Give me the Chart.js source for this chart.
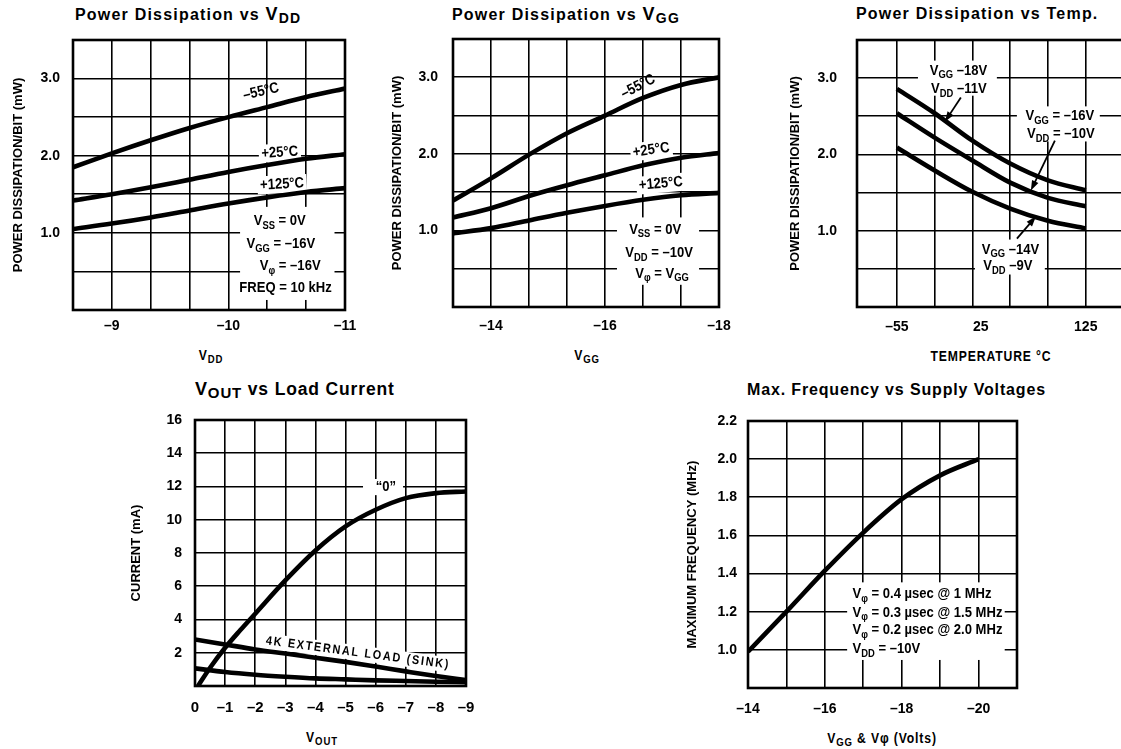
<!DOCTYPE html>
<html>
<head>
<meta charset="utf-8">
<script src="https://cdn.jsdelivr.net/npm/chart.js@4.4.1/dist/chart.umd.min.js"></script>
<style>
  html, body { margin: 0; padding: 0; background: #fff; }
  body { width: 1121px; height: 749px; overflow: hidden; position: relative; color: #000;
         font-family: "Liberation Sans", Arial, sans-serif; }
  canvas { position: absolute; }
  .t { position: absolute; font-weight: bold; font-size: 16px; line-height: 16px; letter-spacing: 1.2px; white-space: nowrap; }
  .t .bv { font-size: 18px; }
  .t .bs { font-size: 14px; position: relative; top: 3px; }
  .ax { position: absolute; transform: translateX(-50%) scaleX(0.87); white-space: nowrap; font-weight: bold; font-size: 14px; line-height: 14px;
        letter-spacing: 1px; }
  .ax .xs { font-size: 11px; position: relative; top: 3px; }
</style>
</head>
<body>
<div class="t" style="left:75px;top:6px">Power Dissipation vs <span class="bv">V</span><span class="bs">DD</span></div>
<div class="t" style="left:452px;top:6px">Power Dissipation vs <span class="bv">V</span><span class="bs">GG</span></div>
<div class="t" style="left:856px;top:6px;letter-spacing:1.2px">Power Dissipation vs Temp.</div>
<div class="t" style="left:195px;top:381px;font-size:17.5px;letter-spacing:0.85px"><span class="bv">V</span><span class="bs" style="font-size:15px">OUT</span> vs Load Current</div>
<div class="t" style="left:747px;top:382px;letter-spacing:0.85px">Max. Frequency vs Supply Voltages</div>

<div class="ax" style="left:211px;top:348px">V<span class="xs">DD</span></div>
<div class="ax" style="left:587px;top:348px">V<span class="xs">GG</span></div>
<div class="ax" style="left:991px;top:349px">TEMPERATURE °C</div>
<div class="ax" style="left:322px;top:730px">V<span class="xs">OUT</span></div>
<div class="ax" style="left:882px;top:731px">V<span class="xs">GG</span> &amp; Vφ (Volts)</div>

<script>
const FN = '"Liberation Sans", Arial, sans-serif';

// Power dissipation vs VDD
const vddX = [-8.667, -9, -9.333, -9.667, -10, -10.333, -10.667, -11];
const vddPdM55 = [1.85, 2.03, 2.2, 2.36, 2.5, 2.63, 2.76, 2.87];
const vddPd25 = [1.42, 1.5, 1.59, 1.69, 1.79, 1.88, 1.96, 2.02];
const vddPd125 = [1.05, 1.12, 1.2, 1.29, 1.38, 1.46, 1.53, 1.58];
const vddTicks = [-9, -9.333, -9.667, -10, -10.333, -10.667, -11];
const vddLabels = [-9, -10, -11];

// Power dissipation vs VGG
const vggX = [-13.333, -14, -14.667, -15.333, -16, -16.667, -17.333, -18];
const vggPdM55 = [1.39, 1.68, 1.99, 2.27, 2.5, 2.73, 2.9, 3.0];
const vggPd25 = [1.17, 1.29, 1.45, 1.59, 1.72, 1.85, 1.95, 2.01];
const vggPd125 = [0.96, 1.03, 1.13, 1.23, 1.32, 1.4, 1.46, 1.49];
const vggTicks = [-14, -14.667, -15.333, -16, -16.667, -17.333, -18];
const vggLabels = [-14, -16, -18];

// Power dissipation vs temperature
const tempX = [-55, -19, 17, 53, 89, 125];
const tempPdHi = [2.86, 2.54, 2.18, 1.88, 1.66, 1.53];
const tempPdMid = [2.54, 2.22, 1.92, 1.63, 1.43, 1.32];
const tempPdLo = [2.09, 1.79, 1.51, 1.29, 1.13, 1.03];
const tempTicks = [-55, -19, 17, 25, 53, 89, 125, 161];
const tempLabels = [-55, 25, 125];

const pdTicks = [0, 0.5, 1, 1.5, 2, 2.5, 3, 3.5];
const pdLabels = [1, 2, 3];

// VOUT vs load current
const outX0 = [-0.1, -0.5, -1, -1.5, -2, -3, -4, -5, -6, -7, -8, -9];
const outI0 = [0, 1.1, 2.3, 3.35, 4.35, 6.35, 8.15, 9.6, 10.6, 11.3, 11.6, 11.7];
const outX = [0, -1, -2, -3, -4, -5, -6, -7, -8, -9];
const outIload = [2.8, 2.5, 2.2, 1.95, 1.7, 1.45, 1.17, 0.88, 0.6, 0.35];
const outIlow = [1.06, 0.84, 0.68, 0.56, 0.46, 0.4, 0.34, 0.3, 0.26, 0.23];
const outTicks = [0, -1, -2, -3, -4, -5, -6, -7, -8, -9];
const curTicks = [0, 2, 4, 6, 8, 10, 12, 14, 16];
const curLabels = [2, 4, 6, 8, 10, 12, 14, 16];

// Max frequency vs supply voltages
const supX = [-14, -15, -16, -17, -18, -19, -20];
const supF = [0.99, 1.2, 1.415, 1.615, 1.79, 1.915, 2.0];
const supTicks = [-14, -15, -16, -17, -18, -19, -20, -21];
const supLabels = [-14, -16, -18, -20];
const freqTicks = [0.8, 1.0, 1.2, 1.4, 1.6, 1.8, 2.0, 2.2];
const freqLabels = [1.0, 1.2, 1.4, 1.6, 1.8, 2.0, 2.2];

// in-plot text, white boxes and arrows (data coordinates)
const NOTES = {
  c1: {
    boxes: [[-10.10, -10.91, 1.337, 0.13]],
    labels: [
      { x: -10.28, y: 2.83, text: '\u201355\u00b0C', rot: -13 },
      { x: -10.44, y: 2.04, text: '+25\u00b0C', rot: -4, bg: true },
      { x: -10.46, y: 1.63, text: '+125\u00b0C', rot: -3, bg: true },
      { x: -10.44, y: 1.154, text: 'V_{SS} = 0V' },
      { x: -10.45, y: 0.856, text: 'V_{GG} = \u201316V' },
      { x: -10.53, y: 0.57, text: 'V_{\u03c6} = \u201316V' },
      { x: -10.49, y: 0.285, text: 'FREQ = 10 kHz' }
    ]
  },
  c2: {
    boxes: [[-16.21, -17.65, 1.17, 0.29]],
    labels: [
      { x: -16.58, y: 2.88, text: '\u201355\u00b0C', rot: -27 },
      { x: -16.81, y: 2.05, text: '+25\u00b0C', rot: -8, bg: true },
      { x: -16.98, y: 1.61, text: '+125\u00b0C', rot: -5, bg: true },
      { x: -16.88, y: 1.013, text: 'V_{SS} = 0V' },
      { x: -16.95, y: 0.706, text: 'V_{DD} = \u201310V' },
      { x: -17.0, y: 0.438, text: 'V_{\u03c6} = V_{GG}' }
    ]
  },
  c3: {
    boxes: [[-34.9, 40.3, 3.23, 2.77], [59.4, 138.4, 2.63, 2.17], [19.4, 86.0, 0.884, 0.426]],
    labels: [
      { x: 3.67, y: 3.10, text: 'V_{GG} \u201318V' },
      { x: 4.1, y: 2.86, text: 'V_{DD} \u201311V' },
      { x: 100.3, y: 2.50, text: 'V_{GG} = \u201316V' },
      { x: 101.3, y: 2.27, text: 'V_{DD} = \u201310V' },
      { x: 53.2, y: 0.754, text: 'V_{GG} \u201314V' },
      { x: 50.8, y: 0.537, text: 'V_{DD} \u20139V' }
    ],
    arrows: [
      [6.0, 2.745, -9.2, 2.43],
      [95.6, 2.18, 72.7, 1.527],
      [59.4, 0.897, 77.5, 1.186]
    ]
  },
  c4: {
    boxes: [[-5.58, -6.91, 12.45, 11.48]],
    labels: [
      { x: -6.34, y: 11.96, text: '\u201c0\u201d' },
      { x: -5.41, y: 1.99, text: '4K EXTERNAL LOAD (SINK)', rot: 7.5, bg: true, size: 12.5, ls: 2 }
    ]
  },
  c5: {
    boxes: [[-16.58, -20.68, 1.354, 0.947]],
    labels: [
      { x: -16.72, y: 1.292, text: 'V_{\u03c6} = 0.4 \u00b5sec @ 1 MHz', align: 'left' },
      { x: -16.72, y: 1.195, text: 'V_{\u03c6} = 0.3 \u00b5sec @ 1.5 MHz', align: 'left' },
      { x: -16.72, y: 1.104, text: 'V_{\u03c6} = 0.2 \u00b5sec @ 2.0 MHz', align: 'left' },
      { x: -16.72, y: 1.004, text: 'V_{DD} = \u201310V', align: 'left' }
    ]
  }
};

function parseRich(str) {
  const segs = [];
  const re = /_\{([^}]*)\}|([^_]+)/g;
  let m;
  while ((m = re.exec(str))) {
    if (m[1] !== undefined) segs.push({ t: m[1], sub: true });
    else segs.push({ t: m[2], sub: false });
  }
  return segs;
}

function fontFor(size, sub) {
  return 'bold ' + (sub ? size * 0.72 : size) + 'px ' + FN;
}

function richText(ctx, str, x, y, size, align, draw) {
  const segs = parseRich(str);
  let w = 0;
  segs.forEach(s => { ctx.font = fontFor(size, s.sub); s.w = ctx.measureText(s.t).width; w += s.w; });
  if (!draw) return w;
  let cx = align === 'left' ? x : x - w / 2;
  ctx.textBaseline = 'middle';
  ctx.textAlign = 'left';
  segs.forEach(s => {
    ctx.font = fontFor(size, s.sub);
    ctx.fillText(s.t, cx, y + (s.sub ? size * 0.32 : 0));
    cx += s.w;
  });
  return w;
}

function drawNotes(chart, phase) {
  const n = NOTES[chart.canvas.id];
  if (!n) return;
  const ctx = chart.ctx;
  const px = v => chart.scales.x.getPixelForValue(v);
  const py = v => chart.scales.y.getPixelForValue(v);
  ctx.save();
  (n.labels || []).forEach(l => {
    const size = l.size || 15;
    ctx.save();
    ctx.letterSpacing = (l.ls || 0) + 'px';
    ctx.translate(px(l.x), py(l.y));
    ctx.rotate((l.rot || 0) * Math.PI / 180);
    ctx.scale(0.87, 1);
    if (phase === 'bg') {
      if (l.bg) {
        const w = richText(ctx, l.text, 0, 0, size, l.align, false);
        ctx.fillStyle = '#fff';
        ctx.fillRect(-w / 2 - 3, -size * 0.6, w + 6, size * 1.2);
      }
    } else {
      ctx.fillStyle = '#000';
      richText(ctx, l.text, 0, 0, size, l.align, true);
    }
    ctx.restore();
  });
  if (phase === 'bg') {
    ctx.fillStyle = '#fff';
    (n.boxes || []).forEach(b => {
      const x0 = px(b[0]), x1 = px(b[1]), y0 = py(b[2]), y1 = py(b[3]);
      ctx.fillRect(Math.min(x0, x1), Math.min(y0, y1), Math.abs(x1 - x0), Math.abs(y1 - y0));
    });
  } else {
    (n.arrows || []).forEach(a => {
      const x0 = px(a[0]), y0 = py(a[1]), x1 = px(a[2]), y1 = py(a[3]);
      const ang = Math.atan2(y1 - y0, x1 - x0);
      ctx.strokeStyle = '#000';
      ctx.lineWidth = 1.8;
      ctx.beginPath();
      ctx.moveTo(x0, y0);
      ctx.lineTo(x1 - 6 * Math.cos(ang), y1 - 6 * Math.sin(ang));
      ctx.stroke();
      ctx.fillStyle = '#000';
      ctx.beginPath();
      ctx.moveTo(x1, y1);
      ctx.lineTo(x1 - 10 * Math.cos(ang) + 3.5 * Math.sin(ang), y1 - 10 * Math.sin(ang) - 3.5 * Math.cos(ang));
      ctx.lineTo(x1 - 10 * Math.cos(ang) - 3.5 * Math.sin(ang), y1 - 10 * Math.sin(ang) + 3.5 * Math.cos(ang));
      ctx.closePath();
      ctx.fill();
    });
  }
  ctx.restore();
}

const notePlugin = {
  id: 'notes',
  beforeDatasetsDraw(chart) { drawNotes(chart, 'bg'); },
  afterDatasetsDraw(chart) {
    const a = chart.chartArea, ctx = chart.ctx;
    ctx.save();
    ctx.strokeStyle = '#000';
    ctx.lineWidth = 2.6;
    ctx.strokeRect(a.left, a.top, a.right - a.left, a.bottom - a.top);
    ctx.restore();
    drawNotes(chart, 'fg');
  }
};

function fmtTick(v, labels, dec) {
  const hit = labels.find(l => Math.abs(l - v) < 1e-6);
  if (hit === undefined) return '';
  const s = Math.abs(hit).toFixed(dec);
  return (hit < 0 ? '\u2013' : '') + s;
}

function build(c) {
  const padT = 12, padB = 34, padR = c.padR !== undefined ? c.padR : 24;
  const left = c.titleX - 18;
  const padL = c.L - left;
  const W = Math.round(padL + (c.R - c.L) + padR);
  const H = Math.round(padT + (c.B - c.T) + padB);
  const cv = document.createElement('canvas');
  cv.id = c.id;
  cv.width = W; cv.height = H;
  cv.style.left = left + 'px';
  cv.style.top = (c.T - padT) + 'px';
  cv.style.width = W + 'px';
  cv.style.height = H + 'px';
  document.body.appendChild(cv);

  new Chart(cv, {
    type: 'line',
    data: {
      datasets: c.series.map(s => ({
        data: s.x.map((x, i) => ({ x: x, y: s.y[i] })),
        borderColor: '#000',
        borderWidth: 4.6,
        pointRadius: 0,
        cubicInterpolationMode: 'monotone',
        fill: false
      }))
    },
    options: {
      responsive: false,
      animation: false,
      devicePixelRatio: 1,
      layout: { padding: { left: 0, top: padT, right: padR, bottom: 0 } },
      plugins: { legend: { display: false }, tooltip: { enabled: false } },
      scales: {
        x: {
          type: 'linear', min: c.xMin, max: c.xMax, reverse: !!c.rev,
          afterBuildTicks: s => { s.ticks = c.xTicks.map(v => ({ value: v })); },
          afterFit: s => { s.height = padB; s.paddingLeft = 0; s.paddingRight = 0; },
          border: { display: false },
          grid: {
            color: ctx => (ctx.tick && c.xHide && c.xHide.includes(ctx.tick.value)) ? 'rgba(0,0,0,0)' : '#000',
            lineWidth: 1.6, drawTicks: false
          },
          ticks: {
            autoSkip: false, maxRotation: 0, minRotation: 0, padding: c.xPad, color: '#000',
            font: { family: FN, size: c.xSize || 14, weight: 'bold' },
            callback: v => fmtTick(v, c.xLabels, 0)
          }
        },
        y: {
          type: 'linear', min: c.yMin, max: c.yMax,
          afterBuildTicks: s => { s.ticks = c.yTicks.map(v => ({ value: v })); },
          afterFit: s => { s.width = padL; s.paddingTop = 0; s.paddingBottom = 0; },
          border: { display: false },
          grid: { color: '#000', lineWidth: 1.6, drawTicks: false },
          ticks: {
            autoSkip: false, padding: c.yPad, color: '#000',
            font: { family: FN, size: 14, weight: 'bold' },
            callback: v => fmtTick(v, c.yLabels, c.yDec)
          },
          title: {
            display: true, text: c.yTitle, color: '#000',
            font: { family: FN, size: 13, weight: 'bold' },
            padding: { top: 10.2, bottom: 0 }
          }
        }
      }
    },
    plugins: [notePlugin]
  });
}

build({
  id: 'c1', L: 73, T: 40, R: 345, B: 310, titleX: 18, padR: 20,
  xMin: -11, xMax: -8.667, rev: true, xTicks: vddTicks, xLabels: vddLabels, xPad: 8,
  yMin: 0, yMax: 3.5, yTicks: pdTicks, yLabels: pdLabels, yDec: 1, yPad: 13,
  yTitle: 'POWER DISSIPATION/BIT (mW)',
  series: [{ x: vddX, y: vddPdM55 }, { x: vddX, y: vddPd25 }, { x: vddX, y: vddPd125 }]
});
build({
  id: 'c2', L: 453, T: 39, R: 719, B: 307, titleX: 397, padR: 20,
  xMin: -18, xMax: -13.333, rev: true, xTicks: vggTicks, xLabels: vggLabels, xPad: 11,
  yMin: 0, yMax: 3.5, yTicks: pdTicks, yLabels: pdLabels, yDec: 1, yPad: 15,
  yTitle: 'POWER DISSIPATION/BIT (mW)',
  series: [{ x: vggX, y: vggPdM55 }, { x: vggX, y: vggPd25 }, { x: vggX, y: vggPd125 }]
});
build({
  id: 'c3', L: 857, T: 40, R: 1134, B: 307, titleX: 795, padR: 0,
  xMin: -93, xMax: 171, xTicks: tempTicks, xLabels: tempLabels, xHide: [25], xPad: 12,
  yMin: 0, yMax: 3.5, yTicks: pdTicks, yLabels: pdLabels, yDec: 1, yPad: 20,
  yTitle: 'POWER DISSIPATION/BIT (mW)',
  series: [{ x: tempX, y: tempPdHi }, { x: tempX, y: tempPdMid }, { x: tempX, y: tempPdLo }]
});
build({
  id: 'c4', L: 195, T: 420, R: 466, B: 686, titleX: 136, padR: 20,
  xMin: -9, xMax: 0, rev: true, xTicks: outTicks, xLabels: outTicks, xPad: 13, xSize: 15,
  yMin: 0, yMax: 16, yTicks: curTicks, yLabels: curLabels, yDec: 0, yPad: 13,
  yTitle: 'CURRENT (mA)',
  series: [{ x: outX0, y: outI0 }, { x: outX, y: outIload }, { x: outX, y: outIlow }]
});
build({
  id: 'c5', L: 748, T: 421, R: 1017, B: 688, titleX: 692, padR: 20,
  xMin: -21, xMax: -14, rev: true, xTicks: supTicks, xLabels: supLabels, xPad: 13,
  yMin: 0.8, yMax: 2.2, yTicks: freqTicks, yLabels: freqLabels, yDec: 1, yPad: 11,
  yTitle: 'MAXIMUM FREQUENCY (MHz)',
  series: [{ x: supX, y: supF }]
});
</script>
</body>
</html>
